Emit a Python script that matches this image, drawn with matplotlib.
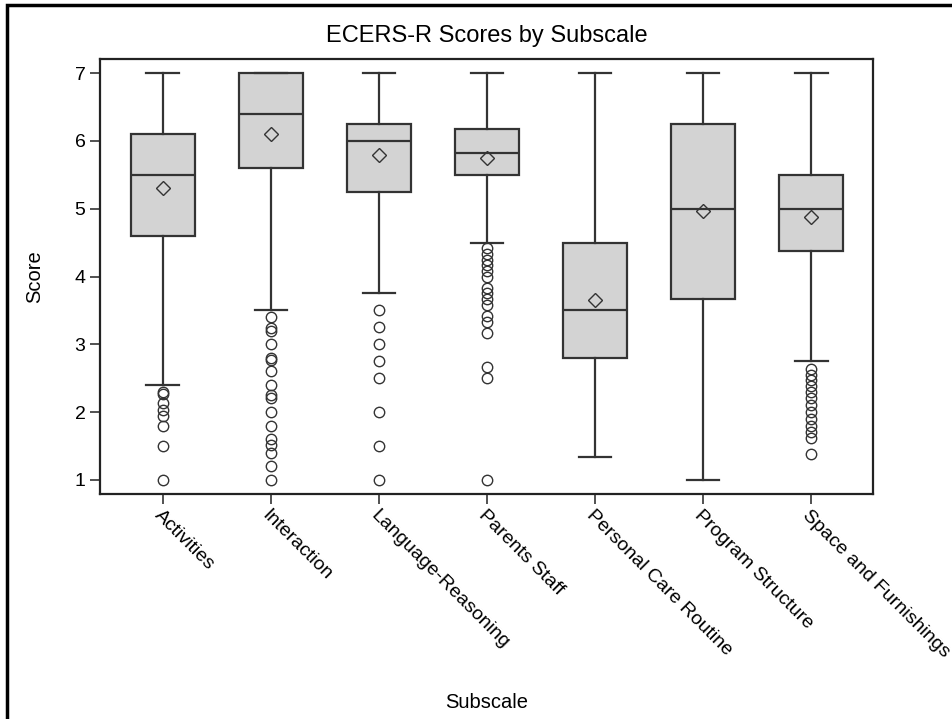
import matplotlib
matplotlib.use("Agg")
import matplotlib.pyplot as plt
from matplotlib.patches import Rectangle

plt.rcParams['font.family'] = ['Liberation Sans', 'DejaVu Sans']

subscales = ['Activities', 'Interaction', 'Language-Reasoning', 'Parents Staff',
             'Personal Care Routine', 'Program Structure', 'Space and Furnishings']
whislo = [2.4, 3.5, 3.75, 4.5, 1.33, 1.0, 2.75]
q1 = [4.6, 5.6, 5.25, 5.5, 2.8, 3.67, 4.38]
medians = [5.5, 6.4, 6.0, 5.83, 3.5, 5.0, 5.0]
q3 = [6.1, 7.0, 6.25, 6.17, 4.5, 6.25, 5.5]
whishi = [7.0, 7.0, 7.0, 7.0, 7.0, 7.0, 7.0]
means = [5.3, 6.1, 5.79, 5.75, 3.65, 4.97, 4.88]
outliers = [
    [2.3, 2.27, 2.13, 2.03, 1.94, 1.8, 1.5, 1.0],
    [3.4, 3.24, 3.2, 3.0, 2.8, 2.77, 2.6, 2.4, 2.25, 2.2, 2.0, 1.8, 1.6, 1.52, 1.4, 1.2, 1.0],
    [3.5, 3.25, 3.0, 2.75, 2.5, 2.0, 1.5, 1.0],
    [4.42, 4.33, 4.25, 4.17, 4.08, 4.0, 3.83, 3.75, 3.67, 3.58, 3.42, 3.33, 3.17, 2.67, 2.5, 1.0],
    [],
    [],
    [2.63, 2.55, 2.47, 2.38, 2.3, 2.2, 2.1, 2.0, 1.9, 1.8, 1.71, 1.62, 1.38],
]

stats = []
for i in range(len(subscales)):
    stats.append(dict(label=subscales[i], whislo=whislo[i], q1=q1[i], med=medians[i],
                      q3=q3[i], whishi=whishi[i], mean=means[i], fliers=outliers[i]))

fig = plt.figure(figsize=(9.53, 7.19), dpi=100)
ax = fig.add_axes([100 / 953, 1 - 494 / 719, 773 / 953, 435 / 719])

edge = '#333333'
ax.bxp(stats, positions=range(len(subscales)), widths=0.59, patch_artist=True,
       showmeans=True, capwidths=0.3,
       boxprops=dict(facecolor='#D3D3D3', edgecolor=edge, linewidth=1.6),
       medianprops=dict(color=edge, linewidth=1.6),
       whiskerprops=dict(color=edge, linewidth=1.6),
       capprops=dict(color=edge, linewidth=1.6),
       meanprops=dict(marker='D', markersize=7.5, markerfacecolor='none',
                      markeredgecolor=edge, markeredgewidth=1.0),
       flierprops=dict(marker='o', markersize=7.5, markerfacecolor='none',
                       markeredgecolor=edge, markeredgewidth=1.0))

ax.set_xlim(-0.58, 6.57)
ax.set_ylim(0.79, 7.21)
ax.set_yticks([1, 2, 3, 4, 5, 6, 7])
ax.set_xticks(range(len(subscales)))
ax.set_xticklabels(subscales, rotation=-45, ha='left', rotation_mode='anchor')
ax.tick_params(axis='both', labelsize=14, length=7, width=1.2, color='#333333')
ax.tick_params(axis='x', pad=2)
for s in ax.spines.values():
    s.set_linewidth(1.6)
    s.set_color('#222222')

ax.set_title('ECERS-R Scores by Subscale', fontsize=17, pad=12)
ax.set_ylabel('Score', fontsize=14.5, labelpad=22)
ax.set_xlabel('Subscale', fontsize=14.5)
ax.xaxis.set_label_coords(0.5, -(693 - 494) / 435)

# outer frame
fig.patches.append(Rectangle((7 / 953, -0.05), 1.1, 1 - 5 / 719 + 0.05,
                             transform=fig.transFigure, fill=False,
                             edgecolor='black', linewidth=2.5))

fig.savefig('out.png', dpi=100)
